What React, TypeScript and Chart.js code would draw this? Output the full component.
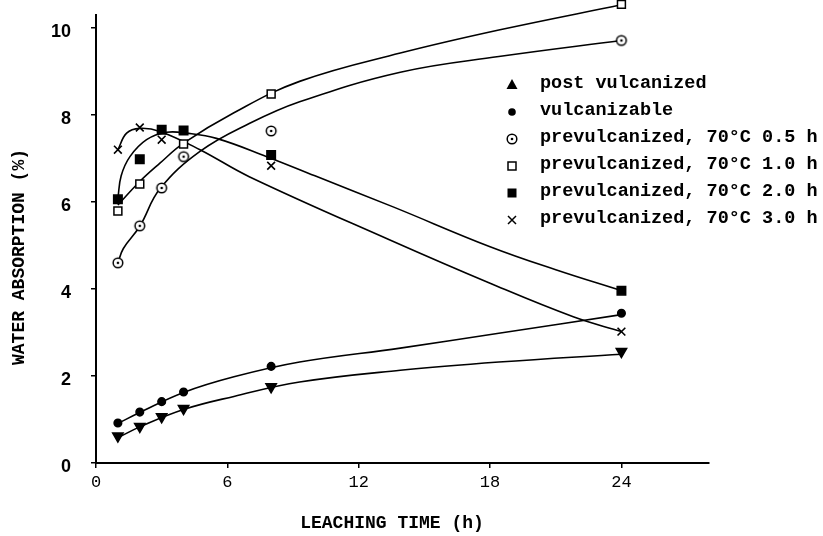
import React, { useEffect, useRef } from "react";
import { Chart, registerables } from "chart.js";

Chart.register(...registerables);

// ---- measured data (markers) ----
const hoursAll = [1, 2, 3, 4, 8, 24];
const postVulcanized = [0.62, 0.84, 1.06, 1.25, 1.75, 2.56];
const vulcanizable = [0.92, 1.17, 1.41, 1.63, 2.22, 3.44];
const pre05 = [4.6, 5.45, 6.32, 7.04, 7.63, 9.71];
const hours10 = [1, 2, 4, 8, 24];
const pre10 = [5.79, 6.41, 7.33, 8.48, 10.54];
const pre20 = [6.06, 6.98, 7.66, 7.64, 7.08, 3.96];
const hours30 = [1, 2, 3, 8, 24];
const pre30 = [7.2, 7.71, 7.43, 6.83, 3.02];

// ---- fitted curves ----
const curvePostX = [1, 2, 4, 6.3, 9.3, 13.9, 18.4, 24];
const curvePostY = [0.58, 0.83, 1.23, 1.53, 1.86, 2.13, 2.32, 2.5];
const curveVulcX = [1, 2, 4, 6.3, 9.3, 13.9, 18.4, 24];
const curveVulcY = [0.91, 1.16, 1.62, 1.98, 2.32, 2.64, 2.98, 3.41];
const curve05X = [1, 1.25, 2, 2.92, 4.75, 7, 9.3, 13.9, 18.4, 24];
const curve05Y = [4.6, 4.93, 5.44, 6.3, 7.16, 7.8, 8.3, 8.98, 9.34, 9.71];
const curve10X = [1, 2, 2.92, 4, 6.3, 9.3, 13.9, 18.4, 24];
const curve10Y = [5.93, 6.47, 6.89, 7.35, 8.05, 8.77, 9.42, 9.95, 10.53];
const curve20X = [1, 1.15, 1.55, 2.31, 3.22, 4.14, 5.5, 7.8, 10, 13.6, 18.0, 21.0, 24];
const curve20Y = [6.08, 6.6, 7.04, 7.43, 7.6, 7.58, 7.46, 7.04, 6.6, 5.88, 4.97, 4.44, 3.96];
const curve30X = [1, 1.4, 2, 2.92, 4.75, 7, 13.4, 18.0, 21.8, 24];
const curve30Y = [7.2, 7.58, 7.69, 7.62, 7.2, 6.58, 5.13, 4.13, 3.36, 3.02];

const xTickValues = [0, 6, 12, 18, 24];
const yTickValues = [0, 2, 4, 6, 8, 10];
const yAxisTop = 10.32;

const legendLabels = [
  "post vulcanized",
  "vulcanizable",
  "prevulcanized, 70°C 0.5 h",
  "prevulcanized, 70°C 1.0 h",
  "prevulcanized, 70°C 2.0 h",
  "prevulcanized, 70°C 3.0 h",
];

const xTitle = "LEACHING TIME (h)";
const yTitle = "WATER ABSORPTION (%)";

const zip = (xs: number[], ys: number[]) => xs.map((x, i) => ({ x, y: ys[i] }));

function makeCircleDot(): HTMLCanvasElement {
  const c = document.createElement("canvas");
  c.width = 14;
  c.height = 14;
  const g = c.getContext("2d")!;
  g.fillStyle = "#fff";
  g.strokeStyle = "#000";
  g.lineWidth = 1.5;
  g.beginPath();
  g.arc(7, 7, 4.8, 0, Math.PI * 2);
  g.fill();
  g.stroke();
  g.fillStyle = "#000";
  g.beginPath();
  g.arc(7, 7, 1.3, 0, Math.PI * 2);
  g.fill();
  return c;
}

export default function App() {
  const ref = useRef<HTMLCanvasElement>(null);

  useEffect(() => {
    const canvas = ref.current;
    if (!canvas) return;
    const circleDot = makeCircleDot();

    const curve = (xs: number[], ys: number[]) => ({
      type: "line" as const,
      data: zip(xs, ys),
      borderColor: "#000",
      borderWidth: 1.6,
      pointRadius: 0,
      fill: false,
      tension: 0.4,
      clip: false,
      order: 2,
    });

    const marks = (xs: number[], ys: number[], extra: any) => ({
      type: "line" as const,
      data: zip(xs, ys),
      showLine: false,
      borderColor: "#000",
      backgroundColor: "#000",
      pointBorderColor: "#000",
      pointBorderWidth: 1.5,
      clip: false,
      order: 1,
      ...extra,
    });

    const overlay = {
      id: "overlay",
      beforeDatasetsDraw(chart: any) {
        const ctx = chart.ctx as CanvasRenderingContext2D;
        const ys = chart.scales.y;
        const x = chart.chartArea.left;
        ctx.save();
        ctx.strokeStyle = "#000";
        ctx.lineWidth = 2;
        ctx.beginPath();
        ctx.moveTo(x, ys.getPixelForValue(0) + 1);
        ctx.lineTo(x, ys.getPixelForValue(yAxisTop));
        ctx.stroke();
        ctx.restore();
      },
      afterDraw(chart: any) {
        const ctx = chart.ctx as CanvasRenderingContext2D;
        ctx.save();
        ctx.fillStyle = "#000";
        ctx.strokeStyle = "#000";
        // axis titles
        ctx.font = "bold 18px 'Liberation Mono'";
        ctx.textAlign = "center";
        ctx.textBaseline = "middle";
        ctx.fillText(xTitle, 392, 523);
        ctx.save();
        ctx.translate(19, 257);
        ctx.rotate(-Math.PI / 2);
        ctx.fillText(yTitle, 0, 0);
        ctx.restore();
        // legend
        const mx = 512;
        const tx = 540;
        ctx.font = "bold 18.5px 'Liberation Mono'";
        ctx.textAlign = "left";
        legendLabels.forEach((label, i) => {
          const y = 85 + i * 27;
          ctx.lineWidth = 1.5;
          if (i === 0) {
            ctx.beginPath();
            ctx.moveTo(mx, y - 6);
            ctx.lineTo(mx + 5.5, y + 4);
            ctx.lineTo(mx - 5.5, y + 4);
            ctx.closePath();
            ctx.fill();
          } else if (i === 1) {
            ctx.beginPath();
            ctx.arc(mx, y, 3.8, 0, Math.PI * 2);
            ctx.fill();
          } else if (i === 2) {
            ctx.drawImage(circleDot, mx - 7, y - 7);
          } else if (i === 3) {
            ctx.strokeRect(mx - 4, y - 4, 8, 8);
          } else if (i === 4) {
            ctx.fillRect(mx - 4.5, y - 4.5, 9, 9);
          } else {
            ctx.beginPath();
            ctx.moveTo(mx - 4, y - 4);
            ctx.lineTo(mx + 4, y + 4);
            ctx.moveTo(mx + 4, y - 4);
            ctx.lineTo(mx - 4, y + 4);
            ctx.stroke();
          }
          ctx.fillText(label, tx, y - 2);
        });
        ctx.restore();
      },
    };

    const chart = new Chart(canvas, {
      type: "line",
      data: {
        datasets: [
          curve(curvePostX, curvePostY),
          curve(curveVulcX, curveVulcY),
          curve(curve05X, curve05Y),
          curve(curve10X, curve10Y),
          curve(curve20X, curve20Y),
          curve(curve30X, curve30Y),
          marks(hoursAll, postVulcanized, { pointStyle: "triangle", pointRotation: 180, pointRadius: 6 }),
          marks(hoursAll, vulcanizable, { pointStyle: "circle", pointRadius: 3.8 }),
          marks(hoursAll, pre05, { pointStyle: circleDot, pointRadius: 7 }),
          marks(hours10, pre10, { pointStyle: "rect", pointRadius: 5.6, backgroundColor: "#fff" }),
          marks(hoursAll, pre20, { pointStyle: "rect", pointRadius: 6 }),
          marks(hours30, pre30, { pointStyle: "crossRot", pointRadius: 5.5, pointBorderWidth: 1.6 }),
        ] as any,
      },
      options: {
        responsive: false,
        animation: false,
        events: [],
        layout: { autoPadding: false, padding: { top: 0, right: 114, left: 0, bottom: 0 } },
        plugins: { legend: { display: false }, tooltip: { enabled: false }, title: { display: false } },
        scales: {
          x: {
            type: "linear",
            min: 0,
            max: 28,
            ticks: { color: "#000", font: { family: "'Liberation Mono'", size: 17 }, padding: 4, maxRotation: 0 },
            grid: { display: true, drawOnChartArea: false, drawTicks: true, tickLength: 5, color: "#000", lineWidth: 1.5 },
            border: { display: true, color: "#000", width: 2 },
            afterBuildTicks: (s: any) => {
              s.ticks = xTickValues.map((v) => ({ value: v }));
            },
            afterFit: (s: any) => {
              s.height = 73;
              s.paddingLeft = 0;
              s.paddingRight = 0;
            },
          },
          y: {
            type: "linear",
            min: 0,
            max: 10.64,
            ticks: { color: "#000", font: { family: "'Liberation Sans'", size: 18, weight: "bold" }, padding: 20, labelOffset: 4 },
            grid: { display: true, drawOnChartArea: false, drawTicks: true, tickLength: 5, color: "#000", lineWidth: 1.5 },
            border: { display: false },
            afterBuildTicks: (s: any) => {
              s.ticks = yTickValues.map((v) => ({ value: v }));
            },
            afterFit: (s: any) => {
              s.width = 96;
              s.paddingTop = 0;
              s.paddingBottom = 0;
            },
          },
        },
      } as any,
      plugins: [overlay],
    });

    return () => chart.destroy();
  }, []);

  return (
    <div style={{ position: "fixed", left: 0, top: 0, width: 823, height: 536, background: "#fff" }}>
      <canvas ref={ref} width={823} height={536} style={{ display: "block" }} />
    </div>
  );
}
